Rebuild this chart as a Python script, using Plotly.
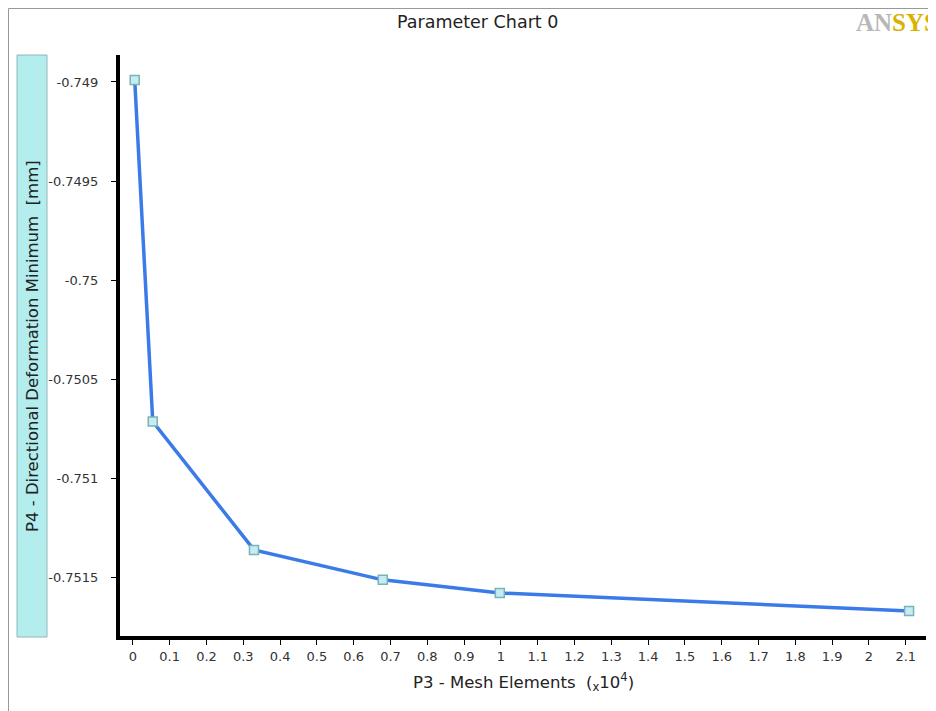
import plotly.graph_objects as go

# Data (x in units of 10^4 mesh elements)
mesh_elements = [0.005, 0.054, 0.329, 0.679, 0.997, 2.109]
deformation_min = [-0.74899, -0.750712, -0.751359, -0.75151, -0.751576, -0.751667]

x_ticks = [round(i * 0.1, 1) for i in range(22)]
x_tick_labels = [f"{v:g}" for v in x_ticks]
y_ticks = [-0.749, -0.7495, -0.75, -0.7505, -0.751, -0.7515]
y_tick_labels = ["-0.749", "-0.7495", "-0.75", "-0.7505", "-0.751", "-0.7515"]

fig = go.Figure()
fig.add_trace(go.Scatter(
    x=mesh_elements, y=deformation_min, mode="lines+markers",
    line=dict(color="#3b7be8", width=3.5),
    marker=dict(symbol="square", size=9, color="#c4ecf2",
                line=dict(color="#7ab3b3", width=1.5)),
    showlegend=False, hoverinfo="x+y",
))

font_family = "DejaVu Sans, Verdana, sans-serif"

# page has an 8px body margin; figure is sized/offset to compensate
PW, PH = 806.0, 581.0  # plot area size in px
L, T = 112.0, 47.0     # margins in figure px

def px(xf):  # figure x px -> paper
    return (xf - L) / PW

def py(yf):  # figure y px -> paper
    return 1 - (yf - T) / PH

fig.update_layout(
    width=928, height=703,
    paper_bgcolor="white", plot_bgcolor="white",
    margin=dict(l=112, r=10, t=47, b=75),
    font=dict(family=font_family, size=13, color="#222"),
    xaxis=dict(
        range=[-0.035, 2.155], tickvals=x_ticks, ticktext=x_tick_labels,
        showgrid=False, zeroline=False, showline=True, linecolor="black", linewidth=4,
        ticks="outside", ticklen=5, tickwidth=1, tickcolor="black",
        tickfont=dict(size=13, color="#333"),
    ),
    yaxis=dict(
        range=[-0.751793, -0.748864], tickvals=y_ticks, ticktext=y_tick_labels,
        showgrid=False, zeroline=False, showline=True, linecolor="black", linewidth=4,
        ticks="outside", ticklen=5, tickwidth=1, tickcolor="black",
        ticklabelstandoff=10,
        tickfont=dict(size=13, color="#333"),
    ),
    shapes=[
        # outer frame
        dict(type="rect", xref="paper", yref="paper", x0=px(0.5), x1=px(1200), y0=py(0.5), y1=py(1200),
             line=dict(color="#999", width=1), fillcolor="rgba(0,0,0,0)", layer="below"),
        # y-title box
        dict(type="rect", xref="paper", yref="paper", x0=px(9), x1=px(39), y0=py(47), y1=py(629),
             line=dict(color="#8fb8b8", width=1), fillcolor="#b3eded", layer="below"),
    ],
    annotations=[
        dict(text="Parameter Chart 0", xref="paper", yref="paper", x=px(469), y=py(14),
             xanchor="center", yanchor="middle", showarrow=False,
             font=dict(size=17.5, color="#222")),
        dict(text="P4 - Directional Deformation Minimum  [mm]", xref="paper", yref="paper",
             x=px(24), y=py(338), textangle=-90, xanchor="center", yanchor="middle",
             showarrow=False, font=dict(size=16.5, color="#222")),
        dict(text="P3 - Mesh Elements  (<sub>x</sub>10<sup>4</sup>)", xref="paper", yref="paper",
             x=px(515), y=py(674), xanchor="center", yanchor="middle", showarrow=False,
             font=dict(size=16.5, color="#222")),
        dict(text="<b><span style='color:#b8b8b8'>AN</span><span style='color:#d9b300'>SYS</span></b>",
             xref="paper", yref="paper", x=px(846), y=py(14), xanchor="left", yanchor="middle",
             showarrow=False, font=dict(size=25, family="Liberation Serif, serif")),
    ],
)

fig.write_html("out.html")
